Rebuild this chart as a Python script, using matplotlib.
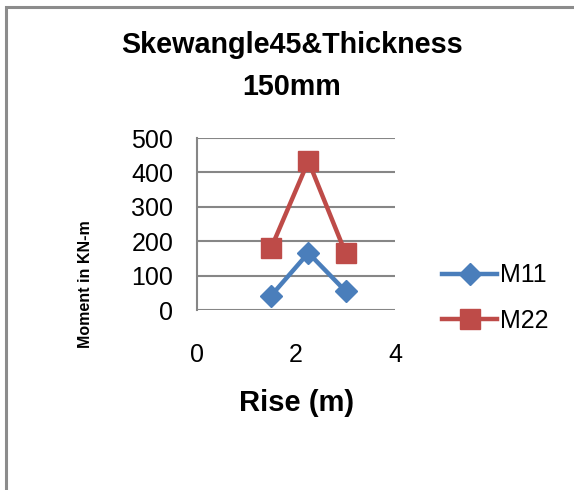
import matplotlib
matplotlib.use("Agg")
import matplotlib.pyplot as plt
from matplotlib.patches import Rectangle
from matplotlib.lines import Line2D

plt.rcParams['font.family'] = ['Liberation Sans', 'DejaVu Sans']

title = "Skewangle45&Thickness\n150mm"
x_label = "Rise (m)"
y_label = "Moment in KN-m"
rise = [1.5, 2.25, 3.0]
m11 = [42, 166, 55]
m22 = [181, 433, 166]
series_names = ["M11", "M22"]
x_ticks = [0, 2, 4]
y_ticks = [0, 100, 200, 300, 400, 500]

blue = "#4A7EBB"
red = "#BE4B48"
grid_c = "#868686"

fig = plt.figure(figsize=(5.74, 4.90), dpi=100)
fig.patches.append(Rectangle((6/574, -0.1), 1.2, 1 - 7/490 + 0.1, transform=fig.transFigure,
                             fill=False, edgecolor="#8C8C8C", linewidth=2.2, zorder=0))

ax = fig.add_axes([197/574, 1 - 310/490, 198/574, 172/490])
ax.set_xlim(0, 4)
ax.set_ylim(0, 500)
ax.set_xticks(x_ticks)
ax.set_yticks(y_ticks)
ax.yaxis.grid(True, color=grid_c, linewidth=1.5)
ax.set_axisbelow(True)
for s in ["top", "right", "bottom"]:
    ax.spines[s].set_visible(False)
ax.spines["left"].set_color(grid_c)
ax.spines["left"].set_linewidth(1.5)
ax.tick_params(axis="both", length=0, labelsize=18)
ax.tick_params(axis="y", pad=17)
ax.tick_params(axis="x", pad=24)

ax.plot(rise, m11, color=blue, linewidth=3.2, marker="D", markersize=11,
        markerfacecolor=blue, markeredgecolor=blue, clip_on=False, zorder=3)
ax.plot(rise, m22, color=red, linewidth=3.2, marker="s", markersize=14,
        markerfacecolor=red, markeredgecolor=red, clip_on=False, zorder=3)

fig.text(292/574, 1 - 66/490, title, ha="center", va="center",
         fontsize=20.7, fontweight="bold", linespacing=1.6)
fig.text(297/574, 1 - 403/490, x_label, ha="center", va="center",
         fontsize=21, fontweight="bold")
fig.text(85/574, 1 - 284/490, y_label, ha="center", va="center",
         rotation=90, fontsize=11.5, fontweight="bold")

handles = [Line2D([], [], color=blue, linewidth=3.2, marker="D", markersize=11),
           Line2D([], [], color=red, linewidth=3.2, marker="s", markersize=14)]
fig.legend(handles, series_names, loc="center left",
           bbox_to_anchor=(442/574, 1 - 298/490), frameon=False, fontsize=18,
           handlelength=2.2, handletextpad=0.1, labelspacing=0.85, borderaxespad=0,
           borderpad=0)

fig.savefig("out.png", dpi=100)
